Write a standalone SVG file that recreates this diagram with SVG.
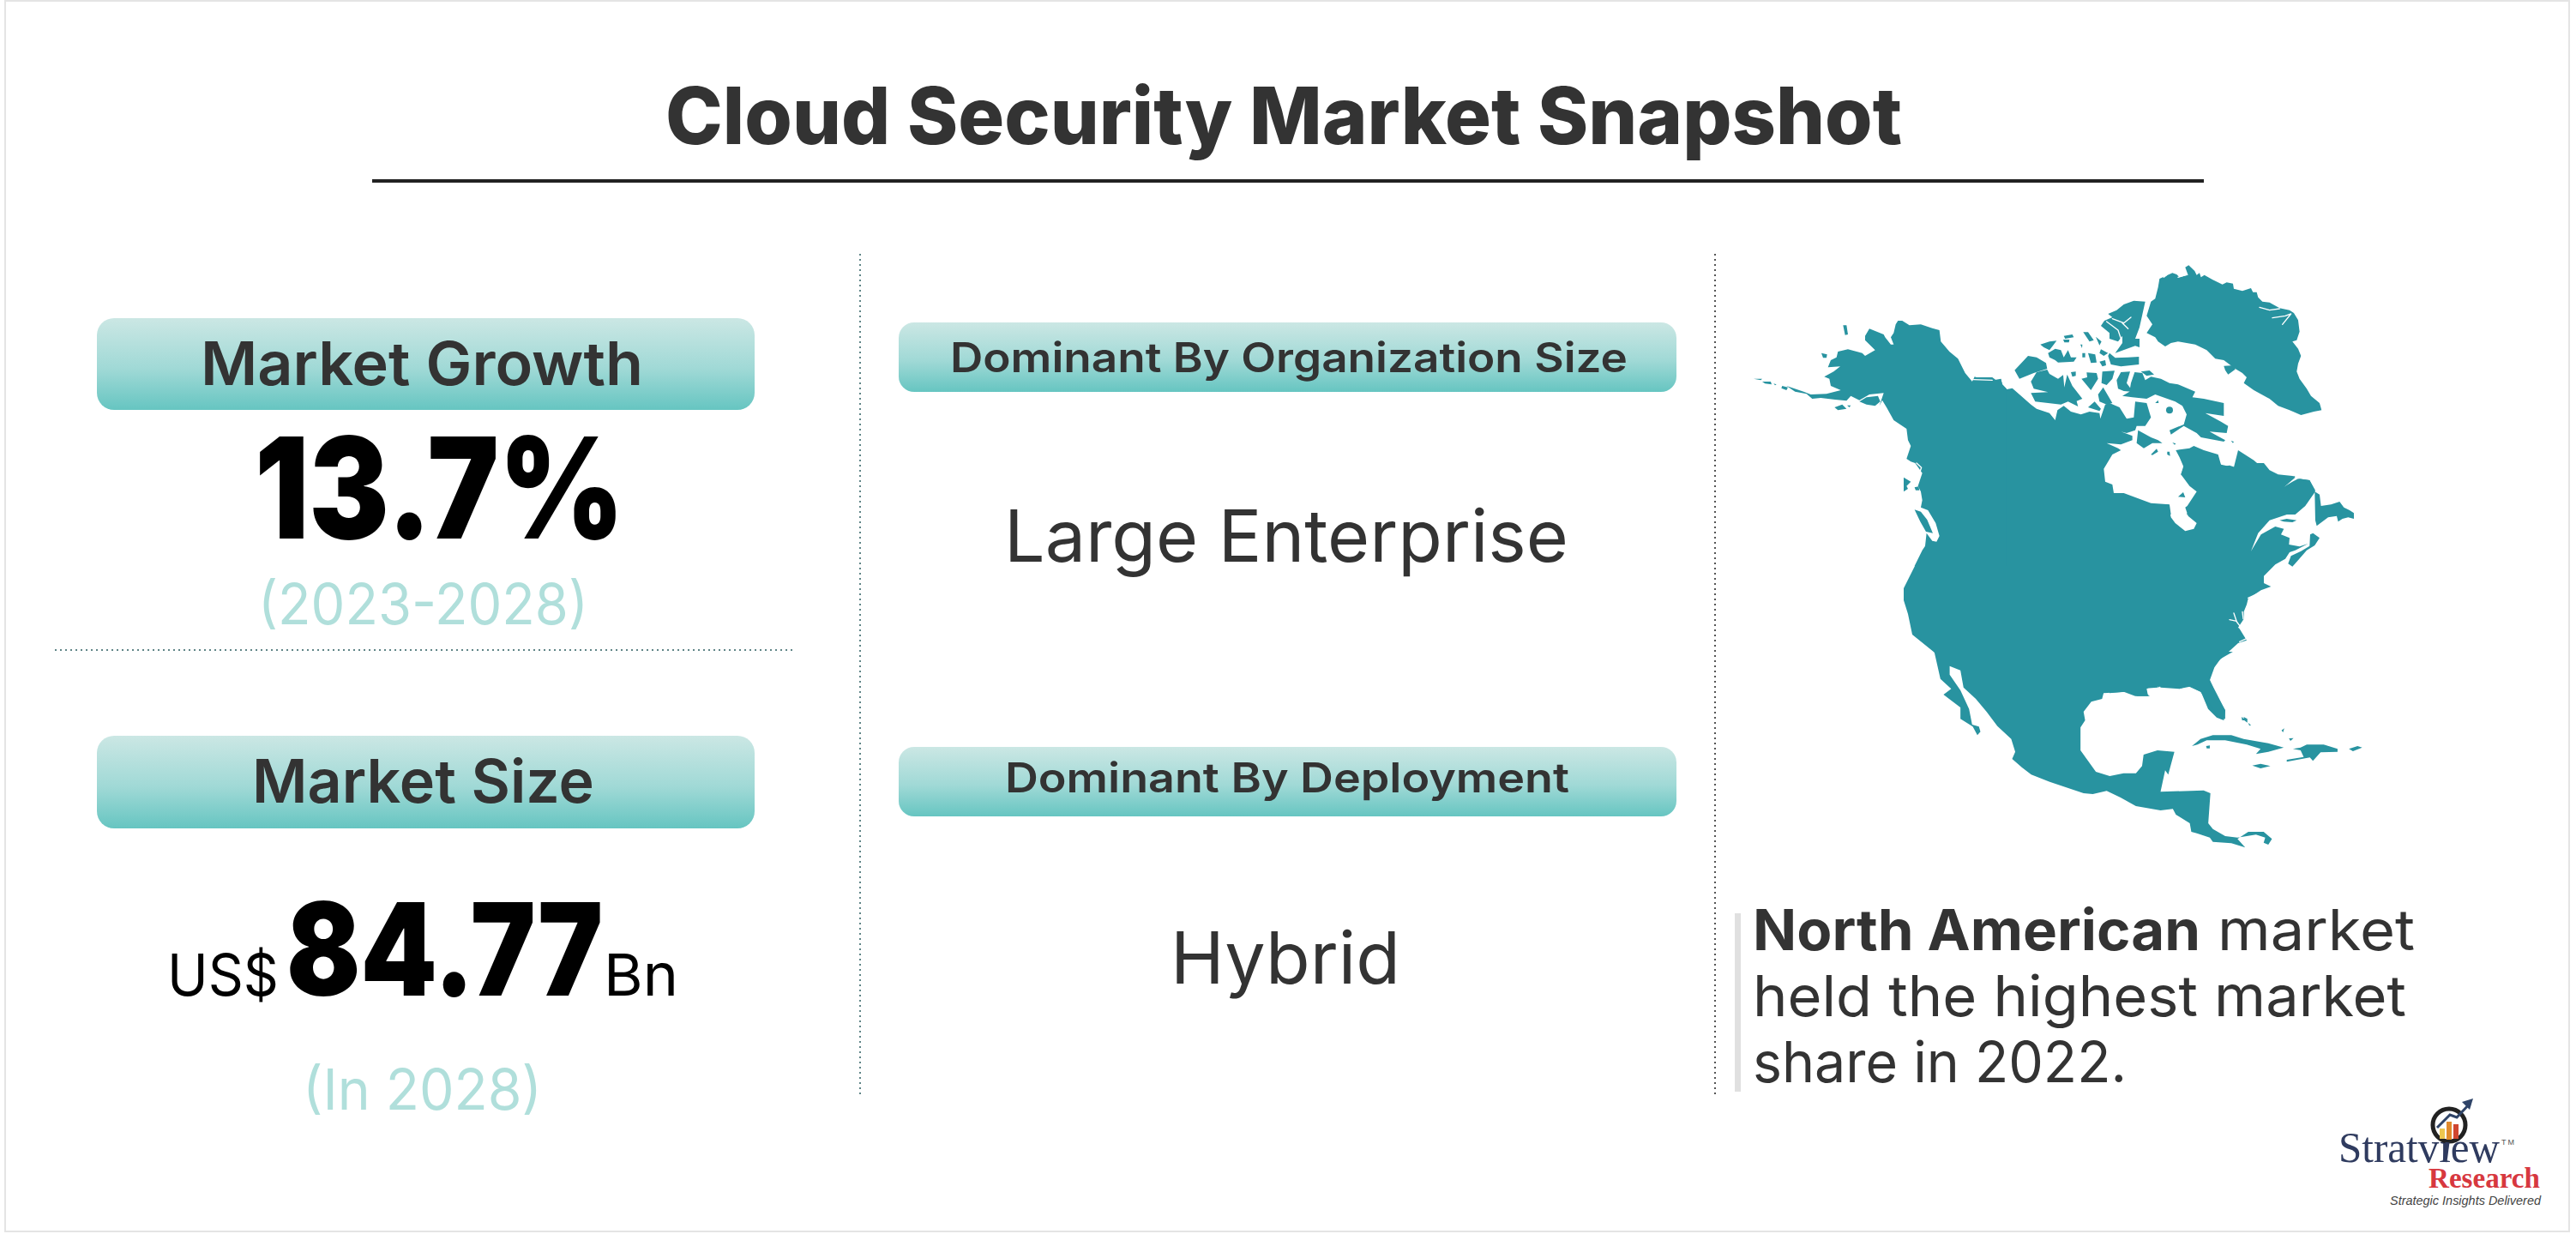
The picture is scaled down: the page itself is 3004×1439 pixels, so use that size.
<svg xmlns="http://www.w3.org/2000/svg" width="3004" height="1439" viewBox="0 0 3004 1439">
<style>
text{font-family:"Inter","Noto Sans",sans-serif;fill:#333;text-anchor:start}
.h{font-weight:600}
.b{font-size:70px}
.m{font-size:48px}
.v{font-size:84px;font-weight:400}
.n{fill:#000;font-weight:900}
.y{fill:#b0dfdb;font-size:66px;font-weight:400}
.r{font-size:66px;font-weight:400}
.k{fill:#000;font-size:68px}
.land{fill:#2893a0}
.ch{fill:none;stroke:#fff;stroke-width:4;stroke-linecap:round;stroke-linejoin:round}
.dot{fill:none;stroke:#5f8587;stroke-width:2;stroke-dasharray:2 4}
</style>
<defs>
<linearGradient id="g" x1="0" y1="0" x2="0" y2="1"><stop offset="0" stop-color="#cbe7e4"/><stop offset="0.55" stop-color="#a0d9d6"/><stop offset="1" stop-color="#66c5c1"/></linearGradient>
</defs>
<rect width="3004" height="1439" fill="#fff"/>
<rect x="6" y="1" width="2990" height="1435" fill="none" stroke="#e4e4e4" stroke-width="2"/>
<g id="title">
<text x="776" y="168" font-size="92" font-weight="800" textLength="1442" lengthAdjust="spacingAndGlyphs">Cloud Security Market Snapshot</text>
<rect x="434" y="209" width="2136" height="4" fill="#222"/>
</g>
<g id="dividers">
<line class="dot" x1="64" y1="758" x2="926" y2="758"/>
<line class="dot" x1="1003" y1="296" x2="1003" y2="1277"/>
<line class="dot" x1="2000" y1="296" x2="2000" y2="1277" style="stroke:#555"/>
</g>
<g id="market-growth">
<rect x="113" y="371" width="767" height="107" rx="20" fill="url(#g)"/>
<text class="h b" x="234" y="449" textLength="516" lengthAdjust="spacingAndGlyphs">Market Growth</text>
<text class="n" x="297" y="628" font-size="164" textLength="431" lengthAdjust="spacingAndGlyphs">13.7%</text>
<text class="y" x="301" y="728" textLength="385" lengthAdjust="spacingAndGlyphs">(2023-2028)</text>
</g>
<g id="market-size">
<rect x="113" y="858" width="767" height="108" rx="20" fill="url(#g)"/>
<text class="h b" x="294" y="936" textLength="399" lengthAdjust="spacingAndGlyphs">Market Size</text>
<text class="k" x="195" y="1161" textLength="130" lengthAdjust="spacingAndGlyphs">US$</text>
<text class="n" x="334" y="1161" font-size="150" textLength="369" lengthAdjust="spacingAndGlyphs">84.77</text>
<text class="k" x="704" y="1161" textLength="87" lengthAdjust="spacingAndGlyphs">Bn</text>
<text class="y" x="353" y="1294" textLength="279" lengthAdjust="spacingAndGlyphs">(In 2028)</text>
</g>
<g id="organization-size">
<rect x="1048" y="376" width="907" height="81" rx="18" fill="url(#g)"/>
<text class="h m" x="1108" y="434" textLength="790" lengthAdjust="spacingAndGlyphs">Dominant By Organization Size</text>
<text class="v" x="1171" y="655" textLength="658" lengthAdjust="spacingAndGlyphs">Large Enterprise</text>
</g>
<g id="deployment">
<rect x="1048" y="871" width="907" height="81" rx="18" fill="url(#g)"/>
<text class="h m" x="1172" y="924" textLength="658" lengthAdjust="spacingAndGlyphs">Dominant By Deployment</text>
<text class="v" x="1365" y="1147" textLength="268" lengthAdjust="spacingAndGlyphs">Hybrid</text>
</g>
<g id="map">
<polygon class="land" points="2233,660 2220,686 2220,700 2225,716 2230,740 2256,761 2470,790 2470,590 2340,590"/>
<g transform="translate(2300,300) scale(0.3333)">
<path class="land" d="M745,35 757,28 778,48 785,62 795,55 800,70 812,62 840,78 875,95 890,88 912,92 915,110 945,118 975,108 982,122 995,122 1000,140 1015,155 1040,158 1075,178 1110,185 1125,195 1140,220 1145,260 1135,290 1120,295 1140,320 1150,345 1140,372 1135,400 1145,425 1170,460 1185,485 1215,510 1222,535 1195,540 1150,552 1110,535 1070,520 1040,495 1030,490 985,465 950,440 960,420 945,405 920,390 880,360 850,355 820,325 780,305 720,295 695,300 675,312 650,295 640,280 610,265 630,235 610,205 625,155 640,145 650,105 655,75 700,55 715,60 725,70 755,62Z"/>
<path class="land" d="M880,380 915,378 920,392 895,410 885,395Z"/>
<path class="land" d="M605,155 565,152 530,165 505,185 475,198 490,210 462,222 450,240 480,265 480,285 510,295 525,275 525,300 500,335 570,310 585,315 585,285 570,285 585,245 595,200Z"/>
<path class="land" d="M480,335 500,352 545,350 583,348 583,375 520,382 485,375 475,345ZM450,322 475,335 460,345 445,335ZM445,365 465,360 468,378 455,382ZM405,335 430,340 435,368 415,370ZM385,335 395,335 395,350 385,350ZM388,262 405,262 425,290 410,295ZM432,278 452,295 445,308ZM378,305 385,305 384,318Z"/>
<path class="land" d="M238,305 270,295 295,292 285,305 270,325 250,315ZM265,335 290,320 310,325 320,350 335,325 345,350 365,350 355,365 300,368 290,360 270,350ZM320,275 350,270 355,280 325,285ZM318,288 340,288 338,298 322,298Z"/>
<path class="land" d="M148,395 195,345 225,350 258,370 262,390 215,405 165,425Z"/>
<path class="land" d="M205,435 225,402 262,393 270,408 300,425 318,412 322,455 332,410 350,450 385,495 365,503 370,522 335,505 310,515 220,505 205,475 265,472 215,460Z"/>
<path class="land" d="M345,402 362,400 362,415 350,418ZM382,425 402,420 400,403 435,405 440,425 415,465ZM455,400 498,397 490,425 470,447 452,440ZM440,480 458,455 490,510 470,515 445,505ZM405,525 428,505 450,530 445,538Z"/>
<path class="land" d="M505,430 520,402 552,400 540,440 558,465 555,470 530,468 510,460Z"/>
<path class="land" d="M568,402 595,405 605,430 625,418 660,425 690,440 720,445 780,470 770,490 810,495 880,510 880,555 815,545 870,575 895,590 890,615 830,610 885,640 880,645 800,630 785,615 740,590 695,620 690,605 740,585 750,550 735,520 710,505 640,480 610,495 560,490 525,485 550,470 555,440Z"/>
<path class="land" d="M590,400 620,396 636,410 610,415Z"/>
<circle class="land" cx="690" cy="535" r="12"/>
<path class="land" d="M640,510 650,500 652,510Z"/>
<path class="land" d="M0,900 0,435 8,418 30,425 75,430 100,425 105,445 120,462 140,458 165,480 205,515 225,530 270,545 290,570 298,535 320,520 345,540 380,550 410,540 445,545 448,565 465,515 480,510 515,525 540,565 565,560 570,505 610,510 625,560 605,590 575,590 570,605 540,615 520,610 560,625 560,640 520,655 470,650 510,668 520,675 490,690 460,740 465,785 490,795 495,825 530,825 625,860 690,865 695,900Z"/>
<path class="land" d="M580,605 625,630 650,640 665,650 630,650 600,668 575,650ZM625,690 645,670 650,680 630,692ZM682,680 690,680 692,695 682,690ZM700,648 712,652 708,656ZM905,642 915,645 912,650Z"/>
<path class="land" d="M712,675 760,668 775,660 810,675 860,690 870,725 915,735 930,675 985,710 1025,745 1060,765 1100,770 1130,765 1088,805 1120,785 1140,775 1180,780 1200,820 1165,870 1130,900 750,900 775,850 790,820 765,780 730,760 740,735 725,700Z"/>
<path class="ch" d="M1005,175 1040,185 1075,180M1050,212 1095,205 1115,198 1085,235M490,215 530,230 555,210M525,230 545,250M470,225 510,255 520,285M720,70 750,60M670,70 680,62"/>
</g>
<g transform="translate(2040,360) scale(0.3333)">
<path class="land" d="M520,42 535,42 560,58 600,55 640,68 665,75 670,115 700,150 730,175 755,225 780,255 790,240 850,240 870,255 880,245 885,265 900,280 900,900 578,900 605,845 615,830 620,785 640,812 655,815 665,795 652,750 625,705 600,695 605,670 600,640 590,620 605,575 580,540 565,535 550,525 565,480 555,460 550,420 505,390 480,345 465,320 455,340 470,295 420,300 385,320 355,305 340,322 300,318 250,312 220,315 200,298 160,290 130,270 190,290 215,300 270,298 320,285 285,270 280,245 262,238 295,220 318,202 275,205 285,180 305,170 310,150 345,142 395,155 405,165 440,145 405,110 405,95 420,70 470,90 475,100 495,125 505,125 495,100 505,85 512,55Z"/>
<path class="land" d="M328,58 340,58 345,90 335,92ZM252,155 272,160 270,172 258,172ZM15,245 45,245 40,250ZM45,255 75,255 78,265 55,262ZM85,262 95,265 90,268ZM115,270 135,275 130,285 112,278ZM385,325 410,310 450,305 458,325 440,340 410,335ZM298,345 325,335 340,350 310,355ZM342,338 355,338 350,345ZM540,590 565,605 550,620 555,630 540,640ZM578,625 592,622 595,635 582,635ZM578,703 600,710 622,738 642,785 618,780 598,745Z"/>
<path class="ch" d="M785,248 850,250M585,540 602,556 592,585"/>
</g>
<g transform="translate(2460,540) scale(0.3333)">
<path class="land" d="M0,900 0,110 15,108 40,105 80,120 130,140 150,150 160,145 205,145 215,190 230,210 265,238 295,230 305,210 275,185 265,155 272,150 305,100 280,80 250,40 262,0 385,0 395,12 420,8 440,15 450,0 540,0 560,25 590,40 640,45 650,50 610,85 635,85 665,55 700,60 720,95 695,125 650,170 560,200 520,245 495,308 530,250 580,222 610,230 600,250 630,262 628,285 665,292 695,282 650,305 630,312 615,335 580,355 540,395 540,420 565,432 530,445 485,475 480,495 470,520 470,545 450,575 455,580 480,620 450,630 395,680 360,710 345,745 375,815 405,865 400,900 375,890 345,860 320,800 275,780 245,790 190,775 170,785 165,770 130,790 135,815 90,815 50,800 0,805Z"/>
<path class="land" d="M595,200 620,195 655,200 640,207 610,205ZM625,352 635,325 670,308 700,290 702,250 712,245 735,262 718,288 690,305 660,340 640,362ZM718,100 735,110 740,150 775,145 805,135 820,155 840,165 855,175 855,195 835,190 815,195 800,205 795,185 765,190 725,220 720,200ZM240,118 258,102 265,120ZM462,888 478,900 464,900Z"/>
<path class="ch" d="M485,472 530,452M435,525 445,555 460,575M420,548 445,553M465,520 468,545M455,625 478,615"/>
</g>
<g transform="translate(2200,760) scale(0.359,0.3333)">
<path class="land" d="M155,0 175,95 210,130 185,150 240,195 240,235 280,262 295,292 305,280 300,262 278,255 268,200 240,135 205,80 205,50 240,65 250,125 290,165 325,210 360,260 405,305 418,350 408,375 440,405 470,430 530,455 640,495 670,498 715,487 760,510 810,540 890,555 930,550 940,570 985,600 990,630 1008,635 1050,650 1060,665 1120,670 1165,685 1140,655 1175,630 1225,630 1252,655 1240,675 1225,668 1230,650 1200,640 1140,650 1100,645 1060,620 1045,600 1052,495 1030,485 890,490 905,415 915,430 935,350 880,345 835,360 830,400 810,425 770,425 725,435 680,420 650,375 630,345 630,265 645,240 640,210 665,175 700,165 705,145 780,140 815,155 855,155 825,130 880,125 885,110 890,125 950,130 985,122 1020,140 1040,170 1085,235 1100,235 1100,205 1050,100 1065,55 1085,25 1125,0Z"/>
<path class="land" d="M992,330 1020,305 1060,292 1120,292 1160,305 1240,320 1290,335 1240,350 1200,358 1215,340 1170,325 1100,310 1040,310 1010,325ZM1038,330 1050,328 1050,338 1040,338ZM1188,398 1215,392 1247,400 1215,408ZM1320,340 1345,335 1365,325 1420,325 1465,340 1465,350 1410,352 1385,382 1375,370 1300,385 1300,378 1355,368 1345,345ZM1502,340 1530,330 1545,335 1515,348ZM1160,228 1172,235 1172,248 1162,240ZM1175,248 1184,258 1178,258ZM1283,275 1292,268 1288,282ZM1307,303 1322,302 1312,312Z"/>
</g>
</g>
<g id="north-america-note">
<rect x="2023" y="1065" width="7" height="208" fill="#e0e0e0"/>
<text class="r" x="2044" y="1108" font-weight="700" style="font-weight:700" textLength="522" lengthAdjust="spacingAndGlyphs">North American</text>
<text class="r" x="2586" y="1108" textLength="230" lengthAdjust="spacingAndGlyphs">market</text>
<text class="r" x="2044" y="1185" textLength="762" lengthAdjust="spacingAndGlyphs">held the highest market</text>
<text class="r" x="2044" y="1262" textLength="436" lengthAdjust="spacingAndGlyphs">share in 2022.</text>
</g>
<g id="logo">
<text x="2727" y="1355" font-size="50" style="font-family:'Liberation Serif',serif;fill:#2f3b5f" textLength="188" lengthAdjust="spacingAndGlyphs">Stratview</text>
<circle cx="2856" cy="1312" r="19" fill="#fff" stroke="#222" stroke-width="5"/>
<path d="M2854,1332 2851,1355" stroke="#2f3b5f" stroke-width="5" fill="none"/>
<rect x="2845" y="1316" width="6" height="12" fill="#edc64f"/>
<rect x="2853" y="1308" width="6" height="21" fill="#e08a2c"/>
<rect x="2861" y="1311" width="6" height="17" fill="#cf4630"/>
<path d="M2842,1315 2857,1300 2865,1303 2881,1286" fill="none" stroke="#2f4468" stroke-width="3"/>
<path d="M2884,1281 2871,1285 2880,1294Z" fill="#2f4468"/>
<text x="2917" y="1335" font-size="9" style="font-family:'Liberation Sans',sans-serif;fill:#555" textLength="15">TM</text>
<text x="2832" y="1385" font-size="34" font-weight="700" style="font-family:'Liberation Serif',serif;fill:#d7383f" textLength="130" lengthAdjust="spacingAndGlyphs">Research</text>
<text x="2787" y="1405" font-size="14" font-style="italic" style="font-family:'Liberation Sans',sans-serif;fill:#444" textLength="176" lengthAdjust="spacingAndGlyphs">Strategic Insights Delivered</text>
</g>
</svg>
